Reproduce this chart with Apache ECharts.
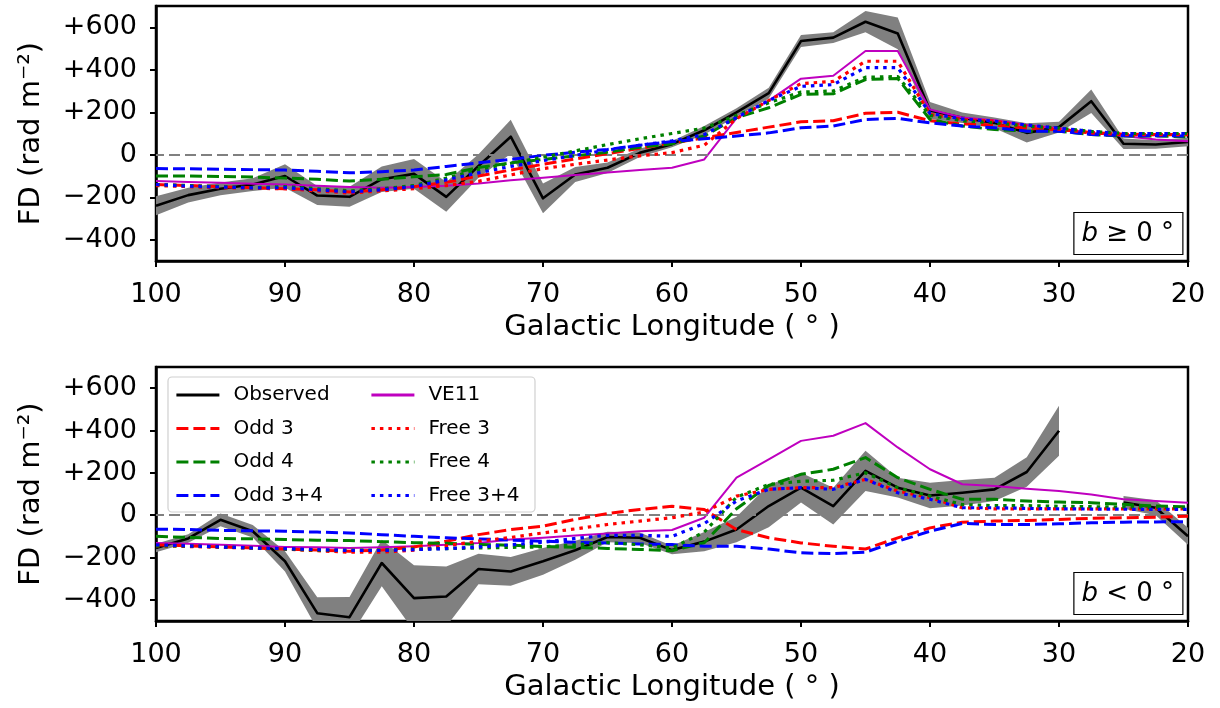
<!DOCTYPE html>
<html>
<head>
<meta charset="utf-8">
<script src="https://cdn.jsdelivr.net/npm/echarts@6/dist/echarts.min.js"></script>
<style>
html,body{margin:0;padding:0;background:#fff;}
#chart{width:1220px;height:708px;}
</style>
</head>
<body>
<div id="chart"></div>
<script>
// Galactic longitude grid (degrees)
const lon = [100,97.5,95,92.5,90,87.5,85,82.5,80,77.5,75,72.5,70,67.5,65,62.5,60,57.5,55,52.5,50,47.5,45,42.5,40,37.5,35,32.5,30,27.5,25,22.5,20];
const yTickValues = [-400,-200,0,200,400,600];

// ---- Top panel (b >= 0) ----
const obsTop  = [-240,-190,-160,-140,-100,-192,-198,-115,-90,-198,-53,85,-205,-93,-61,9,50,115,199,290,535,551,626,571,208,174,150,103,130,252,52,48,60];
const errTop  = [45,35,30,30,55,45,47,60,70,70,55,80,70,35,25,20,15,20,20,25,28,25,50,75,40,25,25,45,25,55,25,20,20];
const ve11Top = [-124,-128,-132,-136,-140,-146,-152,-155,-152,-146,-135,-120,-108,-95,-84,-72,-61,-22,172,255,358,372,488,488,213,175,162,140,125,103,88,72,64];
const odd3Top = [-140,-145,-150,-155,-160,-165,-175,-165,-150,-130,-100,-72,-45,-20,5,30,55,80,105,130,155,160,195,200,160,145,140,125,118,105,97,95,95];
const odd4Top = [-100,-100,-102,-105,-110,-115,-124,-115,-104,-93,-60,-38,-22,-5,12,35,52,88,174,221,284,287,354,359,166,135,119,111,111,95,88,88,85];
const odd34Top= [-65,-66,-68,-70,-72,-78,-85,-80,-72,-55,-38,-22,-3,12,25,45,62,75,88,103,127,135,166,171,150,135,127,111,111,95,90,90,88];
const free3Top= [-145,-150,-155,-158,-160,-170,-180,-170,-160,-145,-125,-95,-65,-45,-25,-5,10,45,170,255,335,345,440,440,190,166,158,135,120,103,95,95,95];
const free4Top= [-140,-145,-150,-155,-150,-160,-170,-160,-145,-110,-70,-40,-12,18,48,75,100,125,185,245,295,300,365,368,185,160,150,135,125,110,100,100,100];
const free34Top=[-140,-148,-152,-156,-155,-165,-175,-165,-150,-118,-85,-55,-28,-3,22,45,65,95,175,255,322,330,410,410,195,168,158,140,125,110,100,100,100];

// ---- Bottom panel (b < 0) ----
const obsBot  = [-155,-110,-22,-76,-218,-463,-482,-226,-392,-384,-254,-266,-218,-166,-103,-107,-165,-125,-68,43,130,43,209,130,93,106,122,204,399,null,60,35,-100];
const errBot  = [20,20,30,30,48,75,95,110,155,142,72,68,63,45,25,25,20,45,60,100,70,87,95,47,60,60,55,70,118,null,30,35,40];
const ve11Bot = [-131,-135,-140,-145,-150,-152,-155,-152,-147,-140,-131,-115,-107,-96,-87,-76,-70,-12,177,264,351,375,435,320,217,146,138,125,114,98,75,67,59];
const odd3Bot = [-140,-145,-150,-155,-160,-165,-170,-165,-150,-123,-92,-68,-52,-20,8,27,42,27,-68,-107,-131,-147,-160,-107,-60,-33,-28,-25,-20,-15,-12,-10,-5];
const odd4Bot = [-100,-105,-110,-112,-115,-118,-120,-125,-130,-133,-138,-142,-148,-152,-157,-162,-168,-130,30,140,193,217,272,177,122,75,75,67,62,59,51,43,40];
const odd34Bot= [-66,-68,-72,-74,-76,-80,-84,-92,-100,-107,-112,-118,-123,-128,-132,-136,-139,-147,-147,-160,-178,-182,-175,-123,-76,-39,-44,-44,-41,-36,-33,-32,-31];
const free3Bot= [-145,-148,-152,-156,-160,-168,-175,-175,-165,-145,-123,-105,-84,-65,-44,-28,-12,15,90,122,130,130,169,114,83,35,30,30,30,30,30,30,30];
const free4Bot= [-145,-145,-150,-155,-160,-165,-165,-165,-160,-158,-155,-152,-150,-140,-130,-140,-155,-80,85,145,160,165,200,130,90,50,45,45,42,40,38,35,35];
const free34Bot=[-140,-145,-150,-155,-158,-163,-167,-167,-163,-158,-150,-140,-128,-110,-95,-95,-100,-40,67,122,130,122,169,106,75,35,35,32,30,29,28,27,27];

const FONT = 'DejaVu Sans';
const DASH = [12,5];
const DOT = [3.5,5];
const TICK_FS = 27;
const NAME_FS = 29;

function pairs(arr){ return lon.map((x,i)=>[x, arr[i]==null ? '-' : arr[i]]); }

function segments(obs){
  const segs=[]; let s=null, e=null;
  lon.forEach((x,i)=>{
    if(obs[i]!=null){ if(s==null) s=x; e=x; }
    else if(s!=null){ segs.push([s,e]); s=null; }
  });
  if(s!=null) segs.push([s,e]);
  return segs;
}

function bandSeries(obs, err, idx){
  return {
    type:'custom', xAxisIndex:idx, yAxisIndex:idx, z:1, silent:true, clip:true,
    data: segments(obs),
    encode:{x:[0,1]},
    renderItem:function(params, api){
      const s=api.value(0), e=api.value(1);
      const up=[], lo=[];
      lon.forEach((x,i)=>{
        if(x<=s && x>=e && obs[i]!=null){
          up.push(api.coord([x, obs[i]+err[i]]));
          lo.push(api.coord([x, obs[i]-err[i]]));
        }
      });
      const cs=params.coordSys;
      return {
        type:'group',
        clipPath:{type:'rect', shape:{x:cs.x, y:cs.y, width:cs.width, height:cs.height}},
        children:[{type:'polygon', shape:{points: up.concat(lo.reverse())}, style:{fill:'#808080', stroke:null}}]
      };
    }
  };
}

function line(name, arr, color, type, width, idx, z){
  return {
    name:name, type:'line', xAxisIndex:idx, yAxisIndex:idx, data:pairs(arr),
    symbol:'none', showSymbol:false, connectNulls:false, z:z, silent:true,
    lineStyle:{color:color, type:type, width:width, cap:'butt', join:'round'},
    itemStyle:{color:color}
  };
}

function zeroLine(idx){
  return {
    type:'line', xAxisIndex:idx, yAxisIndex:idx, data:[], z:0, silent:true,
    markLine:{silent:true, symbol:'none', label:{show:false}, animation:false,
      lineStyle:{color:'#808080', type:[11,5], width:2.2},
      data:[{yAxis:0}]}
  };
}

function panelSeries(idx, obs, err, ve, o3, o4, o34, f3, f4, f34){
  return [
    zeroLine(idx),
    bandSeries(obs, err, idx),
    line('Observed', obs, '#000000', 'solid', 2.6, idx, 3),
    line('VE11', ve, '#bf00bf', 'solid', 2, idx, 4),
    line('Odd 3', o3, '#ff0000', DASH, 3, idx, 5),
    line('Odd 4', o4, '#008000', DASH, 3, idx, 6),
    line('Odd 3+4', o34, '#0000ff', DASH, 3, idx, 7),
    line('Free 3', f3, '#ff0000', DOT, 3.2, idx, 8),
    line('Free 4', f4, '#008000', DOT, 3.2, idx, 9),
    line('Free 3+4', f34, '#0000ff', DOT, 3.2, idx, 10)
  ];
}

function xAxis(idx){
  return {
    gridIndex:idx, type:'value', min:20, max:100, interval:10, inverse:true,
    name:'Galactic Longitude ( ° )', nameLocation:'middle', nameGap:52,
    nameTextStyle:{fontFamily:FONT, fontSize:NAME_FS, color:'#000'},
    axisLine:{show:true, onZero:false, lineStyle:{color:'#000', width:2.5}},
    axisTick:{show:true, inside:false, length:6, lineStyle:{color:'#000', width:2}},
    axisLabel:{fontFamily:FONT, fontSize:TICK_FS, color:'#000', margin:20},
    splitLine:{show:false}
  };
}
function yAxis(idx){
  return {
    gridIndex:idx, type:'value', min:-500, max:700,
    name:'FD (rad m⁻²)', nameLocation:'middle', nameGap:110, nameRotate:90,
    nameTextStyle:{fontFamily:FONT, fontSize:NAME_FS, color:'#000'},
    axisLine:{show:true, onZero:false, lineStyle:{color:'#000', width:2.5}},
    axisTick:{show:true, inside:false, length:6, lineStyle:{color:'#000', width:2}, customValues:yTickValues},
    axisLabel:{fontFamily:FONT, fontSize:TICK_FS, color:'#000', margin:19, customValues:yTickValues,
      formatter:function(v){ return v>0 ? '+'+v : (v<0 ? '\u2212'+Math.abs(v) : '0'); }},
    splitLine:{show:false}
  };
}

const legendText = {fontFamily:FONT, fontSize:20, color:'#000', lineHeight:20, padding:[0,0,0,9]};
const legendCommon = {orient:'vertical', top:385, padding:0, itemWidth:43, itemHeight:14, itemGap:13.5,
  textStyle:legendText, selectedMode:false, z:5, itemStyle:{opacity:0}, lineStyle:{width:2.8}};
const annStyle = {fontFamily:FONT, fontSize:26, fontWeight:'normal', color:'#000',
  rich:{i:{fontFamily:FONT, fontSize:26, fontStyle:'italic', color:'#000'}}};

const chart = echarts.init(document.getElementById('chart'), null, {renderer:'canvas'});
chart.setOption({
  animation:false,
  backgroundColor:'#fff',
  grid:[
    {left:156, top:6, width:1032, height:255, show:true, borderColor:'#000', borderWidth:2.5, backgroundColor:'transparent'},
    {left:156, top:367, width:1032, height:254, show:true, borderColor:'#000', borderWidth:2.5, backgroundColor:'transparent'}
  ],
  xAxis:[xAxis(0), xAxis(1)],
  yAxis:[yAxis(0), yAxis(1)],
  title:[
    {text:'{i|b} ≥ 0 °', right:37, top:212, borderColor:'#000', borderWidth:1.2, padding:[9,9,8,8], textStyle:annStyle},
    {text:'{i|b} < 0 °', right:37, top:572, borderColor:'#000', borderWidth:1.2, padding:[9,9,8,8], textStyle:annStyle}
  ],
  legend:[
    Object.assign({data:['Observed','Odd 3','Odd 4','Odd 3+4'], left:175}, legendCommon),
    Object.assign({data:['VE11','Free 3','Free 4','Free 3+4'], left:370}, legendCommon)
  ],
  graphic:[
    {type:'rect', z:3, silent:true, shape:{x:168, y:377, width:367, height:135, r:4},
     style:{fill:'rgba(255,255,255,0.8)', stroke:'#d0d0d0', lineWidth:1.2}}
  ],
  series: [].concat(
    panelSeries(0, obsTop, errTop, ve11Top, odd3Top, odd4Top, odd34Top, free3Top, free4Top, free34Top),
    panelSeries(1, obsBot, errBot, ve11Bot, odd3Bot, odd4Bot, odd34Bot, free3Bot, free4Bot, free34Bot)
  )
});
</script>
</body>
</html>
